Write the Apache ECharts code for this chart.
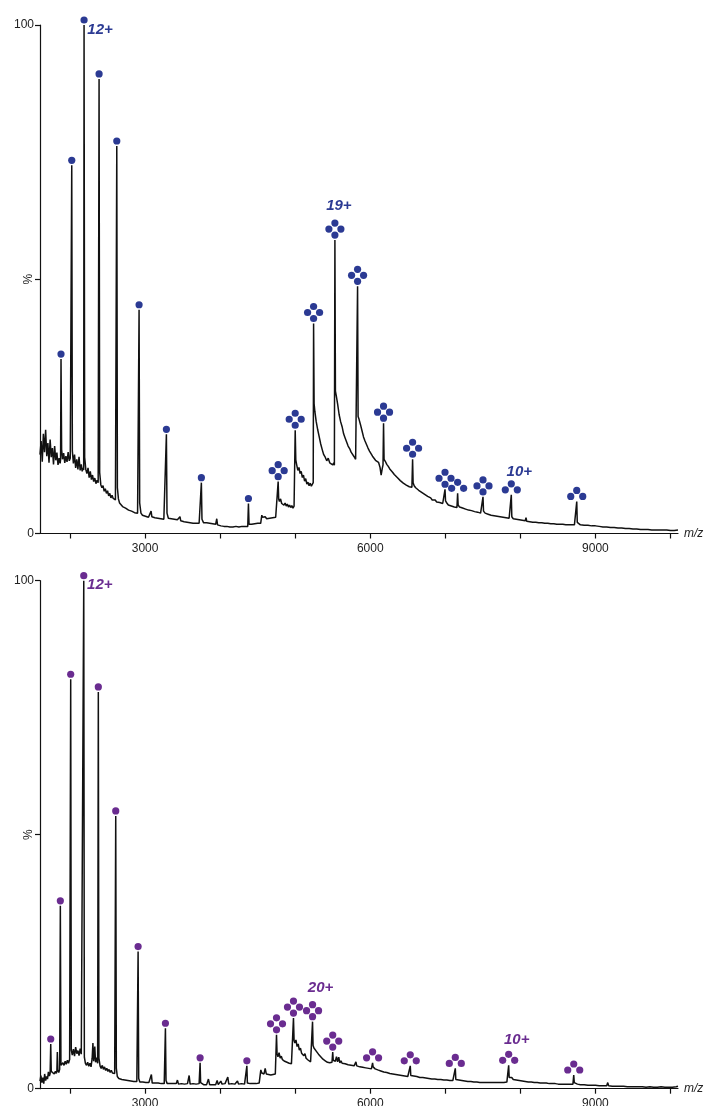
<!DOCTYPE html>
<html>
<head>
<meta charset="utf-8">
<script src="https://cdn.jsdelivr.net/npm/echarts@6.0.0/dist/echarts.min.js"></script>
<style>
  html, body { margin: 0; padding: 0; background: #fff; }
  #spectra { width: 707px; height: 1106px; }
</style>
</head>
<body>
<div id="spectra"></div>
<script>
// m/z axis
const mzMin = 1600;
const mzMax = 10100;
const mzTicks = [2000, 3000, 4000, 5000, 6000, 7000, 8000, 9000, 10000];
const mzLabels = [3000, 6000, 9000];

// upper spectrum, [m/z, % intensity]
const topSpectrum = [
    [1600,15.5],[1615,18.2],[1630,14.1],[1645,19.6],[1660,16.0],[1675,20.4],[1690,15.2],[1705,17.8],[1720,13.9],[1735,18.5],
    [1750,15.0],[1765,16.8],[1780,13.6],[1795,17.2],[1810,14.4],[1825,15.9],[1840,13.5],[1855,14.8],[1868,13.8],[1874,14.5],
    [1880,34.3],[1888,16.5],[1900,14.6],[1915,15.8],[1930,13.9],[1945,15.2],[1960,14.1],[1975,16.0],[1990,14.3],[2003,14.8],
    [2016,14.5],[2023,72.4],[2031,16.2],[2045,13.8],[2060,15.5],[2075,12.9],[2090,14.6],[2105,12.6],[2120,15.1],[2135,12.4],
    [2150,13.6],[2162,12.2],[2172,12.9],[2182,12.5],[2187,100],[2195,15.0],[2210,12.6],[2225,11.8],[2240,12.9],[2255,11.0],
    [2270,12.2],[2285,10.6],[2300,11.5],[2315,10.2],[2330,10.9],[2345,9.8],[2360,10.5],[2375,10.0],[2382,10.3],[2387,89.4],
    [2395,12.0],[2410,9.6],[2425,9.0],[2440,9.4],[2455,8.3],[2470,8.8],[2485,7.9],[2500,8.4],[2515,7.4],[2530,7.9],
    [2545,7.0],[2560,7.5],[2575,6.9],[2590,7.2],[2605,6.6],[2617,6.9],[2623,76.2],[2631,9.0],[2645,6.8],[2660,6.0],
    [2680,5.8],[2700,5.3],[2720,5.6],[2740,5.0],[2760,5.2],[2780,4.6],[2800,4.9],[2820,4.4],[2840,4.7],[2860,4.1],
    [2880,4.4],[2900,4.0],[2912,4.3],[2920,44.0],[2928,6.0],[2945,4.0],[2965,3.6],[2985,3.9],[3005,3.4],[3025,3.6],
    [3045,3.2],[3065,3.5],[3080,4.4],[3090,3.3],[3110,3.4],[3130,3.1],[3150,3.3],[3170,3.0],[3190,3.2],[3210,2.9],
    [3230,3.1],[3250,2.8],[3270,3.0],[3284,19.5],[3292,4.0],[3310,3.0],[3330,2.7],[3350,2.9],[3370,2.6],[3390,2.8],
    [3410,2.5],[3430,2.7],[3450,2.4],[3465,3.3],[3475,2.5],[3500,2.6],[3520,2.3],[3540,2.5],[3560,2.2],[3580,2.4],
    [3600,2.1],[3620,2.3],[3640,2.0],[3660,2.2],[3680,2.0],[3700,2.3],[3720,2.0],[3740,2.2],[3750,10.0],[3758,2.8],
    [3780,2.1],[3800,1.9],[3820,2.1],[3840,1.8],[3860,2.0],[3880,1.7],[3900,1.9],[3920,1.6],[3940,1.8],[3955,2.9],
    [3965,1.7],[3990,1.7],[4010,1.5],[4030,1.7],[4050,1.4],[4070,1.6],[4090,1.4],[4110,1.6],[4130,1.3],[4150,1.5],
    [4170,1.3],[4190,1.5],[4210,1.4],[4230,1.6],[4250,1.3],[4270,1.5],[4290,1.4],[4310,1.6],[4330,1.4],[4350,1.5],
    [4368,1.4],[4377,5.9],[4385,1.8],[4400,1.6],[4420,1.8],[4440,1.6],[4460,1.9],[4480,1.7],[4500,2.0],[4520,1.8],
    [4540,2.0],[4555,3.6],[4565,3.2],[4580,3.0],[4600,3.3],[4620,2.9],[4640,3.2],[4660,3.0],[4680,3.3],[4700,3.1],
    [4720,3.4],[4740,3.2],[4755,3.5],[4765,3.3],[4773,10.2],[4780,6.8],[4790,6.3],[4805,6.8],[4820,5.9],[4835,6.2],
    [4850,5.6],[4865,6.0],[4880,5.4],[4895,5.8],[4910,5.2],[4925,5.6],[4940,5.1],[4955,5.5],[4970,5.0],[4985,5.4],
    [4993,5.2],[5000,20.3],[5008,14.5],[5020,13.5],[5035,12.4],[5050,13.0],[5065,11.8],[5080,12.2],[5095,11.0],[5110,11.5],
    [5125,10.3],[5140,10.8],[5155,9.7],[5170,10.1],[5185,9.4],[5200,9.9],[5215,9.3],[5230,9.6],[5240,10.0],[5245,41.3],
    [5252,25.5],[5262,24.0],[5280,22.0],[5300,20.4],[5320,19.0],[5340,17.6],[5360,16.5],[5380,15.5],[5400,15.0],[5420,14.3],
    [5440,14.8],[5460,13.9],[5480,14.2],[5500,13.5],[5515,13.9],[5522,13.4],[5529,57.7],[5536,28.0],[5548,27.0],[5565,25.5],
    [5585,23.4],[5605,22.0],[5625,21.0],[5645,19.6],[5665,18.8],[5685,18.0],[5705,17.2],[5725,16.7],[5745,16.0],[5765,15.8],
    [5785,15.1],[5805,14.6],[5820,14.9],[5831,48.6],[5838,23.0],[5850,22.5],[5870,21.4],[5890,20.2],[5910,19.0],[5930,18.2],
    [5950,17.5],[5970,16.8],[5990,16.2],[6010,15.7],[6030,15.2],[6050,14.9],[6070,14.4],[6090,14.7],[6110,14.0],[6130,13.0],
    [6145,11.5],[6160,12.8],[6170,13.5],[6177,21.7],[6184,14.6],[6200,14.2],[6220,13.6],[6240,13.2],[6260,12.7],[6280,12.4],
    [6300,12.0],[6320,11.6],[6340,11.3],[6360,11.0],[6380,10.8],[6400,10.4],[6420,10.1],[6440,9.9],[6460,9.7],[6480,9.5],
    [6500,9.3],[6520,9.2],[6540,8.9],[6555,9.1],[6564,14.6],[6571,10.0],[6585,9.4],[6605,9.0],[6625,8.8],[6645,8.5],
    [6665,8.6],[6685,8.1],[6705,8.0],[6725,7.7],[6745,7.6],[6765,7.3],[6785,7.1],[6805,7.0],[6825,6.6],[6845,6.4],
    [6865,6.6],[6885,6.2],[6905,6.0],[6925,6.1],[6945,5.8],[6965,5.9],[6985,5.7],[6996,8.7],[7003,6.4],[7020,6.0],
    [7040,5.6],[7060,5.8],[7080,5.4],[7100,5.5],[7120,5.2],[7140,5.4],[7155,5.1],[7164,7.9],[7171,5.6],[7190,5.2],
    [7210,4.9],[7230,5.0],[7250,4.7],[7270,4.8],[7290,4.5],[7310,4.6],[7330,4.3],[7350,4.5],[7370,4.2],[7390,4.3],
    [7410,4.0],[7430,4.2],[7450,3.9],[7470,4.0],[7490,3.8],[7502,7.2],[7509,4.4],[7530,4.0],[7550,3.7],[7570,3.8],
    [7590,3.5],[7610,3.6],[7630,3.4],[7650,3.5],[7670,3.2],[7690,3.4],[7710,3.2],[7730,3.3],[7750,3.0],[7770,3.2],
    [7790,2.9],[7810,3.1],[7830,2.9],[7850,3.0],[7868,2.8],[7879,7.6],[7886,3.3],[7905,2.9],[7925,2.6],[7945,2.8],
    [7965,2.5],[7985,2.7],[8005,2.5],[8025,2.6],[8045,2.4],[8065,2.5],[8075,3.1],[8085,2.4],[8105,2.5],[8125,2.3],
    [8145,2.4],[8165,2.2],[8185,2.4],[8205,2.2],[8225,2.3],[8245,2.1],[8265,2.3],[8285,2.1],[8305,2.2],[8325,2.0],
    [8345,2.2],[8365,2.0],[8385,2.1],[8405,1.9],[8425,2.1],[8445,1.9],[8465,2.0],[8485,1.8],[8505,2.0],[8525,1.8],
    [8545,2.0],[8565,1.8],[8585,1.9],[8605,1.7],[8625,1.9],[8645,1.7],[8665,1.8],[8685,1.7],[8700,1.9],[8720,1.7],
    [8740,1.8],[8751,6.3],[8758,2.2],[8775,1.9],[8800,1.7],[8825,1.8],[8850,1.6],[8875,1.8],[8900,1.6],[8925,1.7],
    [8950,1.5],[8975,1.7],[9000,1.5],[9025,1.6],[9050,1.4],[9075,1.5],[9100,1.3],[9125,1.5],[9150,1.3],[9175,1.4],
    [9200,1.2],[9225,1.4],[9250,1.2],[9275,1.3],[9300,1.1],[9325,1.3],[9350,1.1],[9375,1.2],[9400,1.0],[9425,1.2],
    [9450,1.0],[9475,1.1],[9500,0.9],[9525,1.1],[9550,0.9],[9575,1.0],[9600,0.8],[9625,1.0],[9650,0.8],[9675,1.0],
    [9700,0.8],[9725,0.9],[9750,0.7],[9775,0.9],[9800,0.7],[9825,0.9],[9850,0.7],[9875,0.8],[9900,0.7],[9925,0.9],
    [9950,0.7],[9975,0.8],[10000,0.6],[10025,0.8],[10050,0.6],[10075,0.8],[10100,0.7]
];

// lower spectrum, [m/z, % intensity]
const bottomSpectrum = [
    [1600,1.5],[1612,2.6],[1625,1.2],[1638,2.2],[1650,1.0],[1662,2.9],[1675,1.6],[1688,2.4],[1700,1.9],[1712,3.3],
    [1725,2.5],[1735,3.0],[1743,8.8],[1750,3.4],[1762,3.1],[1775,3.6],[1790,2.9],[1805,3.4],[1818,3.0],[1825,3.5],
    [1831,7.2],[1838,3.6],[1850,3.2],[1862,3.8],[1871,36.0],[1879,4.6],[1890,4.3],[1905,5.1],[1920,4.6],[1935,5.4],
    [1950,4.8],[1965,5.6],[1980,5.0],[1995,5.8],[2003,5.5],[2009,80.6],[2017,7.6],[2030,6.6],[2045,7.8],[2060,6.4],
    [2075,8.2],[2090,6.9],[2105,7.5],[2120,6.5],[2135,7.9],[2150,6.8],[2165,7.0],[2176,6.5],[2183,100],[2191,6.2],
    [2205,5.0],[2220,4.6],[2235,5.2],[2250,4.4],[2265,5.0],[2280,4.3],[2295,6.0],[2305,9.0],[2315,5.4],[2330,8.3],
    [2340,5.2],[2355,6.1],[2368,5.0],[2377,78.1],[2385,6.0],[2400,4.5],[2415,4.0],[2430,4.6],[2445,3.8],[2460,4.3],
    [2475,3.6],[2490,4.0],[2505,3.4],[2520,3.8],[2535,3.2],[2550,3.6],[2565,3.1],[2580,3.4],[2595,3.0],[2603,3.2],
    [2609,53.7],[2617,4.0],[2630,2.4],[2650,2.0],[2670,2.3],[2690,1.8],[2710,2.1],[2730,1.7],[2750,2.0],[2770,1.6],
    [2790,1.8],[2810,1.5],[2830,1.7],[2850,1.4],[2870,1.6],[2890,1.4],[2900,1.5],[2907,27.0],[2915,2.0],[2930,1.3],
    [2950,1.1],[2970,1.3],[2990,1.0],[3010,1.2],[3030,1.0],[3050,1.2],[3070,1.0],[3084,2.8],[3095,1.1],[3115,0.9],
    [3135,1.1],[3155,0.9],[3175,1.1],[3195,0.9],[3215,1.0],[3235,0.8],[3255,1.0],[3265,0.9],[3271,11.9],[3279,1.6],
    [3295,1.0],[3315,0.8],[3335,1.0],[3355,0.8],[3375,1.0],[3395,0.8],[3415,1.0],[3431,1.7],[3445,0.9],[3465,0.8],
    [3485,1.0],[3505,0.8],[3525,0.9],[3545,0.8],[3565,1.0],[3587,2.6],[3600,0.9],[3620,0.8],[3640,1.0],[3660,0.8],
    [3680,0.9],[3700,0.8],[3720,1.0],[3727,0.9],[3733,5.1],[3740,1.2],[3760,0.9],[3780,0.8],[3800,1.0],[3820,0.8],
    [3844,1.9],[3860,0.8],[3880,1.0],[3900,0.8],[3920,0.9],[3940,0.8],[3960,1.6],[3975,0.8],[3990,1.0],[4009,1.5],
    [4025,0.9],[4045,0.8],[4065,1.0],[4085,0.9],[4102,2.3],[4115,0.9],[4135,0.8],[4155,1.0],[4175,0.8],[4195,0.9],
    [4215,0.8],[4231,1.5],[4245,0.9],[4265,0.8],[4285,1.0],[4305,0.8],[4325,0.9],[4340,0.8],[4350,0.9],[4356,4.5],
    [4363,1.1],[4380,0.9],[4400,1.0],[4420,0.8],[4440,1.0],[4460,0.9],[4480,1.0],[4500,0.9],[4520,1.1],[4535,1.0],
    [4542,3.7],[4555,3.1],[4570,3.3],[4585,2.9],[4600,4.0],[4615,2.9],[4630,3.1],[4645,2.8],[4660,3.0],[4675,2.7],
    [4690,2.9],[4705,2.8],[4720,3.0],[4735,2.9],[4745,3.1],[4751,10.6],[4758,7.0],[4770,6.3],[4785,7.1],[4800,6.0],
    [4815,6.4],[4830,5.7],[4845,6.0],[4860,5.4],[4875,5.7],[4890,5.2],[4905,5.5],[4920,5.0],[4935,5.3],[4950,4.9],
    [4965,5.2],[4972,5.0],[4977,13.9],[4985,9.5],[4995,9.0],[5010,9.6],[5025,8.3],[5040,8.8],[5055,7.6],[5070,8.0],
    [5085,7.0],[5100,7.3],[5115,6.5],[5130,6.9],[5145,6.0],[5160,6.3],[5175,5.6],[5190,5.9],[5205,5.3],[5215,5.6],
    [5225,5.4],[5231,13.2],[5238,8.5],[5250,8.0],[5265,8.3],[5280,7.4],[5295,7.6],[5310,6.8],[5325,7.0],[5340,6.3],
    [5355,6.5],[5370,5.8],[5385,6.1],[5400,5.5],[5415,5.7],[5430,5.2],[5445,5.5],[5460,5.1],[5475,5.4],[5490,5.2],
    [5500,7.2],[5507,5.6],[5520,5.9],[5535,5.4],[5550,6.3],[5565,5.3],[5580,6.2],[5595,5.1],[5610,5.5],[5625,5.0],
    [5645,5.3],[5665,4.9],[5685,5.1],[5705,4.7],[5725,5.0],[5745,4.6],[5765,4.8],[5785,4.5],[5809,5.3],[5820,4.5],
    [5840,4.6],[5860,4.3],[5880,4.5],[5900,4.2],[5920,4.4],[5940,4.1],[5960,4.3],[5980,4.0],[6000,4.2],[6015,3.9],
    [6025,4.1],[6031,5.1],[6038,4.3],[6050,4.4],[6065,3.9],[6080,4.1],[6100,3.7],[6120,3.9],[6140,3.5],[6160,3.6],
    [6180,3.3],[6200,3.5],[6220,3.2],[6240,3.3],[6260,3.0],[6280,3.2],[6300,2.9],[6320,3.1],[6340,2.8],[6360,3.0],
    [6380,2.7],[6400,2.9],[6420,2.6],[6440,2.8],[6460,2.5],[6480,2.7],[6500,2.4],[6520,2.6],[6533,4.5],[6540,2.6],
    [6560,2.4],[6580,2.5],[6600,2.2],[6620,2.4],[6640,2.1],[6660,2.2],[6680,2.0],[6700,2.2],[6720,1.9],[6740,2.1],
    [6760,1.8],[6780,2.0],[6800,1.8],[6820,1.9],[6840,1.7],[6860,1.9],[6880,1.7],[6900,1.8],[6920,1.6],[6940,1.8],
    [6960,1.6],[6980,1.7],[7000,1.5],[7020,1.7],[7040,1.5],[7060,1.6],[7080,1.5],[7100,1.6],[7120,1.5],[7133,4.0],
    [7140,1.8],[7160,1.9],[7180,1.7],[7200,1.9],[7220,1.6],[7240,1.7],[7260,1.5],[7280,1.6],[7300,1.4],[7320,1.6],
    [7340,1.4],[7360,1.5],[7380,1.3],[7400,1.5],[7420,1.3],[7440,1.4],[7460,1.2],[7480,1.4],[7500,1.2],[7520,1.4],
    [7540,1.2],[7560,1.4],[7580,1.2],[7600,1.3],[7620,1.2],[7640,1.4],[7660,1.2],[7680,1.3],[7700,1.2],[7720,1.4],
    [7740,1.2],[7760,1.3],[7780,1.2],[7800,1.4],[7820,1.3],[7835,1.4],[7844,4.6],[7851,2.2],[7865,2.0],[7885,2.2],
    [7905,1.8],[7925,2.0],[7945,1.7],[7965,1.9],[7985,1.6],[8005,1.8],[8025,1.5],[8045,1.6],[8065,1.4],[8085,1.5],
    [8105,1.3],[8125,1.5],[8145,1.3],[8165,1.4],[8185,1.2],[8205,1.4],[8225,1.2],[8245,1.3],[8265,1.1],[8285,1.3],
    [8305,1.1],[8325,1.2],[8345,1.1],[8365,1.2],[8385,1.0],[8405,1.2],[8425,1.0],[8445,1.1],[8465,1.0],[8485,1.1],
    [8505,0.9],[8525,1.1],[8545,0.9],[8565,1.0],[8585,0.9],[8605,1.1],[8625,0.9],[8645,1.0],[8665,0.9],[8685,1.0],
    [8700,0.9],[8711,2.7],[8718,1.2],[8740,1.0],[8760,0.9],[8780,1.0],[8800,0.8],[8825,0.9],[8850,0.8],[8875,0.9],
    [8900,0.7],[8925,0.9],[8950,0.7],[8975,0.8],[9000,0.7],[9025,0.8],[9050,0.6],[9075,0.8],[9100,0.6],[9125,0.7],
    [9150,0.6],[9164,1.2],[9175,0.6],[9200,0.7],[9225,0.5],[9250,0.7],[9275,0.5],[9300,0.6],[9325,0.5],[9350,0.7],
    [9375,0.5],[9400,0.6],[9425,0.4],[9450,0.6],[9475,0.4],[9500,0.6],[9525,0.4],[9550,0.5],[9575,0.4],[9600,0.6],
    [9625,0.4],[9650,0.5],[9675,0.3],[9700,0.5],[9725,0.4],[9750,0.6],[9775,0.3],[9800,0.5],[9825,0.3],[9850,0.5],
    [9875,0.4],[9900,0.5],[9925,0.3],[9950,0.5],[9975,0.3],[10000,0.5],[10025,0.3],[10050,0.5],[10075,0.4],[10100,0.5]
];

// assigned peaks: [m/z, % intensity, oligomer (1 = single dot, 3 = three dots, 4 = four dots)]
const topPeaks = [
    [1880,34.3,1],[2023,72.4,1],[2187,100,1],[2387,89.4,1],[2623,76.2,1],[2920,44.0,1],[3284,19.5,1],[3750,10.0,1],[4377,5.9,1],
    [4773,10.2,4],[5000,20.3,4],[5245,41.3,4],[5529,57.7,4],[5831,48.6,4],[6177,21.7,4],[6564,14.6,4],[6996,8.7,4],[7502,7.2,4],
    [7164,7.9,3],[7879,7.6,3],[8751,6.3,3]
];
const bottomPeaks = [
    [1743,8.8,1],[1871,36.0,1],[2009,80.6,1],[2183,100,1],[2377,78.1,1],[2609,53.7,1],[2907,27.0,1],[3271,11.9,1],[3733,5.1,1],[4356,4.5,1],
    [4751,10.6,4],[4977,13.9,4],[5231,13.2,4],[5500,7.2,4],
    [6031,5.1,3],[6533,4.5,3],[7133,4.0,3],[7844,4.6,3],[8711,2.7,3]
];

// charge state labels: [m/z, % intensity of the peak they sit on]
const topCharges = [[2187,100],[5529,57.7],[7879,7.6]];
const topChargeText = ['12+', '19+', '10+'];
const bottomCharges = [[2183,100],[5231,13.2],[7844,4.6]];
const bottomChargeText = ['12+', '20+', '10+'];

const blue = '#2b3a93';
const purple = '#6a2c90';
const font = 'Liberation Sans, Arial, sans-serif';

// dot clusters drawn just above each peak
function dots(color) {
    return function (params, api) {
        const p = api.coord([api.value(0), api.value(1)]);
        const kind = api.value(2);
        const s = 6, gap = 5;
        let offs = [[0, 0]];
        if (kind === 3) offs = [[0, -s], [-s, 0], [s, 0]];
        if (kind === 4) offs = [[0, -2 * s], [-s, -s], [s, -s], [0, 0]];
        return {
            type: 'group',
            children: offs.map(o => ({
                type: 'circle',
                shape: { cx: p[0] + o[0], cy: p[1] - gap + o[1], r: 3.6 },
                style: { fill: color }
            }))
        };
    };
}

function xAxis(gridIndex) {
    return {
        type: 'value',
        gridIndex: gridIndex,
        min: mzMin,
        max: mzMax,
        name: 'm/z',
        nameLocation: 'end',
        nameGap: 6,
        nameTextStyle: { fontStyle: 'italic', fontSize: 12, color: '#222', fontFamily: font },
        splitLine: { show: false },
        axisLine: { lineStyle: { color: '#111', width: 1.2 } },
        axisTick: { length: 5, customValues: mzTicks, lineStyle: { color: '#111', width: 1.2 } },
        axisLabel: {
            customValues: mzLabels, margin: 9, fontSize: 12, color: '#222', fontFamily: font,
            formatter: v => String(v)
        }
    };
}

function yAxis(gridIndex) {
    return {
        type: 'value',
        gridIndex: gridIndex,
        min: 0,
        max: 100,
        interval: 50,
        name: '%',
        nameLocation: 'middle',
        nameRotate: 90,
        nameGap: 5,
        nameMoveOverlap: false,
        nameTextStyle: { fontSize: 12, color: '#222', fontFamily: font },
        splitLine: { show: false },
        axisLine: { lineStyle: { color: '#111', width: 1.2 } },
        axisTick: { length: 5, lineStyle: { color: '#111', width: 1.2 } },
        axisLabel: {
            margin: 6, fontSize: 12, color: '#222', fontFamily: font,
            formatter: v => (v === 50 ? '' : String(v))
        }
    };
}

function chargeLabels(idx, points, texts, offsets, color) {
    return {
        type: 'scatter',
        xAxisIndex: idx,
        yAxisIndex: idx,
        silent: true,
        symbolSize: 1,
        itemStyle: { color: 'rgba(0,0,0,0)', opacity: 1 },
        data: points.map((p, i) => ({
            value: p,
            name: texts[i],
            label: { offset: offsets[i] }
        })),
        label: {
            show: true,
            position: 'inside',
            formatter: '{b}',
            color: color,
            fontSize: 15,
            fontWeight: 'bold',
            fontStyle: 'italic',
            fontFamily: font
        }
    };
}

echarts.init(document.getElementById('spectra'))
    .setOption({
        animation: false,
        grid: [
            { left: 40, right: 29, top: 25, height: 508.5, outerBoundsMode: 'none', containLabel: false },
            { left: 40, right: 29, top: 580.7, height: 508, outerBoundsMode: 'none', containLabel: false }
        ],
        xAxis: [xAxis(0), xAxis(1)],
        yAxis: [yAxis(0), yAxis(1)],
        series: [
            {
                type: 'line', xAxisIndex: 0, yAxisIndex: 0, data: topSpectrum,
                symbol: 'none', silent: true,
                lineStyle: { color: '#111', width: 1.5 }
            },
            {
                type: 'line', xAxisIndex: 1, yAxisIndex: 1, data: bottomSpectrum,
                symbol: 'none', silent: true,
                lineStyle: { color: '#111', width: 1.5 }
            },
            {
                type: 'custom', xAxisIndex: 0, yAxisIndex: 0, silent: true,
                renderItem: dots(blue), data: topPeaks
            },
            {
                type: 'custom', xAxisIndex: 1, yAxisIndex: 1, silent: true,
                renderItem: dots(purple), data: bottomPeaks
            },
            chargeLabels(0, topCharges, topChargeText, [[16, 5], [4, -34], [8, -23]], blue),
            chargeLabels(1, bottomCharges, bottomChargeText, [[16, 4], [8, -34], [8, -25]], purple)
        ]
    });
</script>
</body>
</html>
